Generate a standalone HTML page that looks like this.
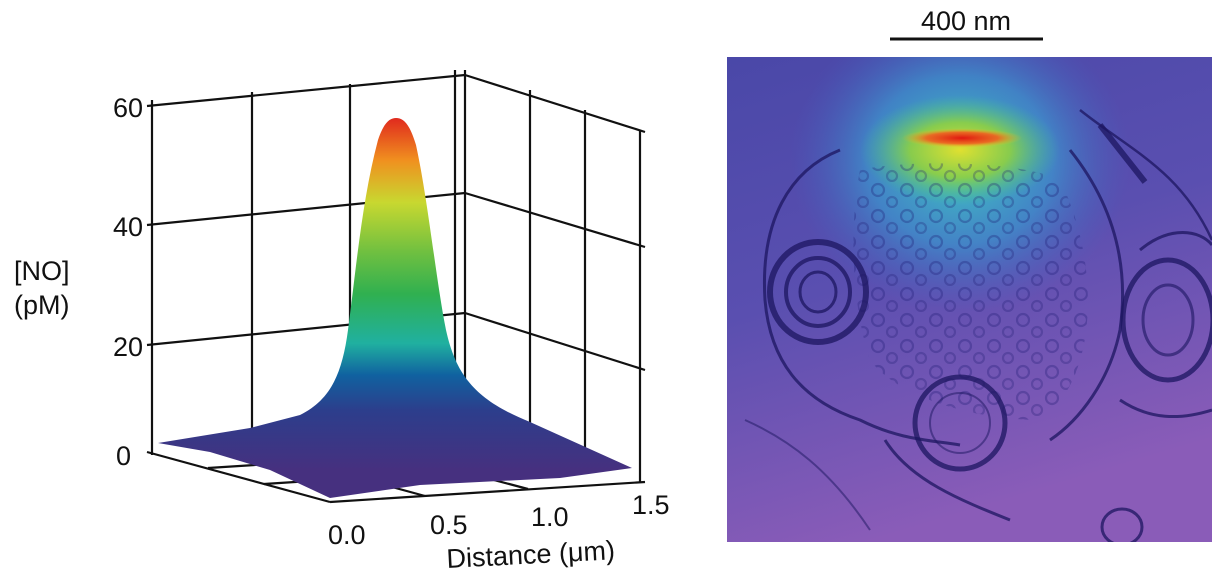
<!DOCTYPE html>
<html><head><meta charset="utf-8"><style>
body{margin:0;background:#fff;width:1219px;height:580px;overflow:hidden;font-family:"Liberation Sans",sans-serif}
</style></head><body>
<svg width="1219" height="580" viewBox="0 0 1219 580" xmlns="http://www.w3.org/2000/svg" font-family="Liberation Sans, sans-serif">
<defs>
<linearGradient id="pk" x1="0" y1="118" x2="0" y2="470" gradientUnits="userSpaceOnUse">
<stop offset="0" stop-color="#e02a1e"/>
<stop offset="0.12" stop-color="#f0901f"/>
<stop offset="0.24" stop-color="#c8d830"/>
<stop offset="0.38" stop-color="#70c040"/>
<stop offset="0.5" stop-color="#30b050"/>
<stop offset="0.64" stop-color="#20b0a0"/>
<stop offset="0.73" stop-color="#1062a0"/>
<stop offset="0.83" stop-color="#2c3e8c"/>
<stop offset="1" stop-color="#46307f"/>
</linearGradient>
<radialGradient id="h1" cx="960" cy="160" r="170" gradientUnits="userSpaceOnUse" gradientTransform="translate(960 160) scale(1 0.9) translate(-960 -160)">
<stop offset="0" stop-color="#40d0c0" stop-opacity="1"/>
<stop offset="0.55" stop-color="#3a9ad0" stop-opacity="0.7"/>
<stop offset="1" stop-color="#4060c0" stop-opacity="0"/>
</radialGradient>
<radialGradient id="h2" cx="960" cy="150" r="100" gradientUnits="userSpaceOnUse" gradientTransform="translate(960 150) scale(1 0.55) translate(-960 -150)">
<stop offset="0" stop-color="#e0e030"/>
<stop offset="0.5" stop-color="#90d040" stop-opacity="0.9"/>
<stop offset="1" stop-color="#40c090" stop-opacity="0"/>
</radialGradient>
<radialGradient id="h3" cx="962" cy="138" r="60" gradientUnits="userSpaceOnUse" gradientTransform="translate(962 138) scale(1 0.16) translate(-962 -138)">
<stop offset="0" stop-color="#e01810"/>
<stop offset="0.6" stop-color="#f06020" stop-opacity="0.9"/>
<stop offset="1" stop-color="#f0c020" stop-opacity="0"/>
</radialGradient>
<linearGradient id="bg" x1="0" y1="0" x2="0.3" y2="1">
<stop offset="0" stop-color="#4a48a8"/>
<stop offset="0.5" stop-color="#5a4fb0"/>
<stop offset="1" stop-color="#8a5cb8"/>
</linearGradient>
<pattern id="ves" width="29" height="26" patternUnits="userSpaceOnUse">
<circle cx="8" cy="8" r="6" fill="none" stroke="#1c1870" stroke-width="2.2" stroke-opacity="0.3"/>
<circle cx="22" cy="20" r="5" fill="none" stroke="#1c1870" stroke-width="2.2" stroke-opacity="0.28"/>
</pattern>
<clipPath id="cp"><rect x="727" y="57" width="485" height="485"/></clipPath>
</defs>

<g stroke="#111" stroke-width="2.2" fill="none">
<line x1="152" y1="100" x2="152" y2="455"/>
<line x1="252" y1="92" x2="252" y2="432"/>
<line x1="350" y1="84" x2="350" y2="420"/>
<line x1="455" y1="70" x2="455" y2="415"/>
<line x1="465" y1="70" x2="465" y2="415"/>
<line x1="530" y1="90" x2="530" y2="430"/>
<line x1="585" y1="110" x2="585" y2="455"/>
<line x1="640" y1="130" x2="640" y2="482"/>
<line x1="147" y1="106" x2="465" y2="75"/>
<line x1="147" y1="225" x2="465" y2="193"/>
<line x1="147" y1="345" x2="465" y2="313"/>
<line x1="465" y1="75" x2="645" y2="132"/>
<line x1="465" y1="193" x2="645" y2="247"/>
<line x1="465" y1="313" x2="645" y2="370"/>
<line x1="147" y1="452" x2="330" y2="502"/>
<line x1="330" y1="502" x2="645" y2="482"/>
<line x1="208" y1="468" x2="520" y2="448"/>
<line x1="264" y1="484" x2="590" y2="463"/>
<line x1="425" y1="496" x2="300" y2="462"/>
<line x1="528" y1="489" x2="400" y2="455"/>
</g>

<path d="M158,443 L250,428 L300,415 C330,400 342,375 348,330 C356,270 362,200 378,140 C384,122 390,118 396,118 C404,118 410,125 416,145 C428,200 436,280 446,330 C456,375 475,400 530,422 L632,468 L560,478 L420,485 L330,498 L270,470 L210,452 Z" fill="url(#pk)"/>

<g font-size="27" fill="#111">
<text x="143" y="117" text-anchor="end">60</text>
<text x="143" y="236" text-anchor="end">40</text>
<text x="143" y="356" text-anchor="end">20</text>
<text x="131" y="465" text-anchor="end">0</text>
<text x="14" y="280">[NO]</text>
<text x="14" y="314">(pM)</text>
<text x="328" y="544">0.0</text>
<text x="430" y="534">0.5</text>
<text x="531" y="526">1.0</text>
<text x="632" y="514">1.5</text>
<text x="447" y="568" transform="rotate(-3 447 568)">Distance (μm)</text>
<text x="966" y="30" text-anchor="middle">400 nm</text>
</g>
<line x1="890" y1="39" x2="1043" y2="39" stroke="#111" stroke-width="3"/>

<g clip-path="url(#cp)">
<rect x="727" y="57" width="485" height="485" fill="url(#bg)"/>
<rect x="727" y="57" width="485" height="485" fill="url(#h1)"/>
<rect x="727" y="57" width="485" height="485" fill="url(#h2)"/>
<rect x="727" y="57" width="485" height="485" fill="url(#h3)"/>
<path d="M860,170 C900,160 1020,160 1060,180 C1100,260 1100,380 1040,420 C980,420 900,400 870,360 C850,300 850,220 860,170 Z" fill="url(#ves)"/>
<g fill="none" stroke="#1c1660" stroke-opacity="0.75">
<path d="M840,150 C790,170 760,220 765,300 C770,360 800,400 860,420 C900,440 930,440 960,445" stroke-width="3"/>
<path d="M1070,150 C1110,200 1130,260 1120,330 C1110,380 1080,420 1050,440" stroke-width="3"/>
<ellipse cx="818" cy="292" rx="48" ry="50" stroke-width="6"/>
<ellipse cx="818" cy="292" rx="32" ry="34" stroke-width="4"/>
<ellipse cx="818" cy="292" rx="18" ry="20" stroke-width="3"/>
<ellipse cx="960" cy="423" rx="45" ry="46" stroke-width="5"/>
<ellipse cx="960" cy="423" rx="30" ry="30" stroke-width="2" stroke-opacity="0.5"/>
<ellipse cx="1168" cy="320" rx="45" ry="60" stroke-width="5"/>
<ellipse cx="1168" cy="320" rx="25" ry="35" stroke-width="3" stroke-opacity="0.6"/>
<ellipse cx="1122" cy="527" rx="20" ry="18" stroke-width="3"/>
<path d="M1100,125 L1145,182" stroke-width="6"/>
<path d="M1080,110 C1130,150 1180,170 1212,240" stroke-width="2.5"/>
<path d="M885,440 C910,480 960,500 1010,520" stroke-width="3"/>
<path d="M1120,400 C1150,420 1180,420 1212,410" stroke-width="3"/>
<path d="M1140,250 C1170,225 1200,230 1212,245" stroke-width="3"/>
<path d="M745,420 C790,440 830,470 870,530" stroke-width="2" stroke-opacity="0.5"/>
</g>
</g>
</svg>
</body></html>
